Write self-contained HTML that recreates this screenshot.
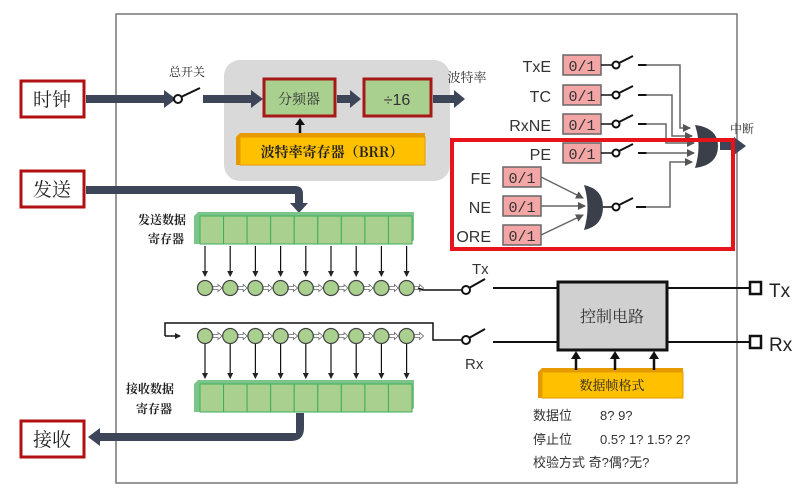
<!DOCTYPE html>
<html><head><meta charset="utf-8"><style>
html,body{margin:0;padding:0;background:#fff}
svg{display:block}
text{font-family:"Liberation Sans","Noto Sans CJK SC",sans-serif}
.cj{font-family:"Noto Serif CJK SC","Noto Sans CJK SC",serif}
text.mono{font-family:"Liberation Mono",monospace}
</style></head><body>
<svg id="s" width="807" height="501" viewBox="0 0 807 501" xmlns="http://www.w3.org/2000/svg">
<defs>
<marker id="ah" markerWidth="6" markerHeight="6" refX="5" refY="3" orient="auto" markerUnits="userSpaceOnUse"><path d="M0,0 L6,3 L0,6z" fill="#222"/></marker>
<marker id="ag" markerWidth="8" markerHeight="8" refX="7" refY="4" orient="auto" markerUnits="userSpaceOnUse"><path d="M0,0 L8,4 L0,8z" fill="#555"/></marker>
</defs>
<rect x="116" y="14" width="621" height="469" fill="#fff" stroke="#777" stroke-width="1.5"/>
<g fill="#fff" stroke="#b01010" stroke-width="3">
<rect x="21" y="81" width="63" height="36"/><rect x="21" y="171" width="63" height="36"/><rect x="21" y="421" width="63" height="36"/>
</g>
<g font-size="19" text-anchor="middle" fill="#222" class="cj">
<text x="52" y="106" class="cj">时钟</text><text x="52" y="196" class="cj">发送</text><text x="52" y="446" class="cj">接收</text>
</g>
<rect x="224" y="60" width="226" height="121" rx="16" fill="#d9d9d9"/>
<g fill="#3d4659">
<rect x="86" y="95" width="80" height="8"/><path d="M164,90 L176,99 L164,108z"/>
<rect x="203" y="95" width="50" height="8"/><path d="M251,90 L263,99 L251,108z"/>
<rect x="337" y="95" width="14" height="8"/><path d="M350,90 L361,99 L350,108z"/>
<rect x="433" y="95" width="22" height="8"/><path d="M454,90 L465,99 L454,108z"/>
<path d="M86,186 H295 Q303,186 303,194 V203 h5 l-9,10 l-9,-10 h5 V194 H86z"/>
<path d="M304,413 V428 Q304,441 291,441 H100 v5 l-12,-9 l12,-9 v5 H296 V413z"/>
</g>
<circle cx="178" cy="99" r="4" fill="#fff" stroke="#111" stroke-width="2"/>
<line x1="181" y1="97" x2="200" y2="88" stroke="#111" stroke-width="2"/>
<text x="187" y="76" font-size="12" text-anchor="middle" class="cj" fill="#222">总开关</text>
<g stroke="#a81818" stroke-width="3" fill="#a9d08e">
<rect x="264" y="79" width="71" height="37"/><rect x="364" y="79" width="67" height="37"/></g>
<text x="299" y="104" font-size="14" text-anchor="middle" fill="#333" class="cj">分频器</text>
<text x="397" y="105" font-size="16" text-anchor="middle" fill="#333">÷16</text>
<text x="467" y="82" font-size="13" text-anchor="middle" fill="#333" class="cj">波特率</text>
<path d="M300,133 V124" stroke="#111" stroke-width="2.5"/><path d="M295,125 L300,118 L305,125z" fill="#111"/>
<path d="M236,137 L240,133 H425 V161 L421,165 H236z" fill="#e59a00"/>
<rect x="240" y="137" width="185" height="28" fill="#ffc000" stroke="#e59a00"/>
<text x="332" y="157" font-size="14" font-weight="bold" text-anchor="middle" fill="#222" class="cj">波特率寄存器（BRR）</text>
<g id="regs"></g>
<text x="162" y="224" font-size="12" font-weight="bold" text-anchor="middle" class="cj" fill="#222">发送数据</text>
<text x="166" y="243" font-size="12" font-weight="bold" text-anchor="middle" class="cj" fill="#222">寄存器</text>
<text x="150" y="393" font-size="12" font-weight="bold" text-anchor="middle" class="cj" fill="#222">接收数据</text>
<text x="154" y="413" font-size="12" font-weight="bold" text-anchor="middle" class="cj" fill="#222">寄存器</text>
<path d="M418,288 L423,290 H462" stroke="#111" stroke-width="1.5" fill="none"/>
<circle cx="466" cy="290" r="4" fill="#fff" stroke="#111" stroke-width="2"/>
<line x1="469" y1="288" x2="485" y2="279" stroke="#111" stroke-width="2"/>
<text x="472" y="274" font-size="15" fill="#333">Tx</text>
<path d="M165,336 V323 H433 V340 H462" stroke="#111" stroke-width="1.5" fill="none"/>
<path d="M165,336 H180" stroke="#111" stroke-width="1.5" marker-end="url(#ah)"/>
<circle cx="466" cy="340" r="4" fill="#fff" stroke="#111" stroke-width="2"/>
<line x1="469" y1="338" x2="485" y2="329" stroke="#111" stroke-width="2"/>
<text x="465" y="369" font-size="15" fill="#333">Rx</text>
<g stroke="#111" stroke-width="2">
<line x1="493" y1="288" x2="558" y2="288"/><line x1="493" y1="342" x2="558" y2="342"/>
<line x1="667" y1="288" x2="750" y2="288"/><line x1="667" y1="342" x2="750" y2="342"/></g>
<rect x="558" y="282" width="109" height="68" fill="#d0d0d0" stroke="#111" stroke-width="3"/>
<text x="612" y="322" font-size="16" text-anchor="middle" class="cj" fill="#333">控制电路</text>
<rect x="750" y="282" width="11" height="12" fill="#fff" stroke="#111" stroke-width="2.5"/>
<rect x="750" y="336" width="11" height="12" fill="#fff" stroke="#111" stroke-width="2.5"/>
<text x="769" y="297" font-size="19" fill="#222">Tx</text><text x="769" y="351" font-size="19" fill="#222">Rx</text>
<path d="M538,372 L542,368 H683 V394 L679,398 H538z" fill="#e59a00"/>
<rect x="542" y="372" width="141" height="26" fill="#ffc000" stroke="#e59a00"/>
<text x="612" y="390" font-size="13" text-anchor="middle" class="cj" fill="#222">数据帧格式</text>
<g stroke="#111" stroke-width="2.5"><line x1="576" y1="370" x2="576" y2="358"/><line x1="615" y1="370" x2="615" y2="358"/><line x1="654" y1="370" x2="654" y2="358"/></g>
<g fill="#111"><path d="M571,359 L576,351 L581,359z"/><path d="M610,359 L615,351 L620,359z"/><path d="M649,359 L654,351 L659,359z"/></g>
<g font-size="13" fill="#333" class="cj">
<text x="533" y="420">数据位</text><text x="600" y="420">8? 9?</text>
<text x="533" y="444">停止位</text><text x="600" y="444">0.5? 1? 1.5? 2?</text>
<text x="533" y="467">校验方式 奇?偶?无?</text></g>
<g id="flags"></g>
<g stroke="#666" stroke-width="1.5" fill="none">
<path d="M646,65 H680 V128 H690" marker-end="url(#ag)"/>
<path d="M646,95 H672 V136 H692" marker-end="url(#ag)"/>
<path d="M646,124 H666 V143 H694" marker-end="url(#ag)"/>
<path d="M646,153 H694" marker-end="url(#ag)"/>
<path d="M646,207 H670 V162 H692" marker-end="url(#ag)"/>
<path d="M541,177 L583,198" marker-end="url(#ag)"/>
<path d="M541,206 H585" marker-end="url(#ag)"/>
<path d="M541,235 L583,215" marker-end="url(#ag)"/>
</g>
<path d="M695,125 Q718,128 718,146 Q718,165 695,168 Q702,146 695,125z" fill="#3a3f4a"/>
<path d="M584,185 Q603,189 603,207 Q603,226 584,230 Q591,207 584,185z" fill="#3a3f4a"/>
<rect x="720" y="142" width="15" height="8" fill="#3d4659"/><path d="M734,137 L746,146 L734,155z" fill="#3d4659"/>
<text x="730" y="133" font-size="12" class="cj" fill="#333">中断</text>
<rect x="452" y="140" width="281" height="109" fill="none" stroke="#e8141c" stroke-width="4"/>
</svg>
<script>
const NS="http://www.w3.org/2000/svg";
function el(p,t,a,txt){const e=document.createElementNS(NS,t);for(const k in a)e.setAttribute(k,a[k]);if(txt)e.textContent=txt;p.appendChild(e);return e;}
const R=document.getElementById('regs');
function reg(x,y,w,h){el(R,'path',{d:`M${x},${y+4} L${x+4},${y} H${x+w} V${y+h-4} L${x+w-4},${y+h} H${x}z`,fill:'#7cc58a'});
const cw=(w-8)/9;for(let i=0;i<9;i++)el(R,'rect',{x:x+6+i*cw,y:y+4,width:cw,height:h-4,fill:'#a9d08e',stroke:'#3cae5c','stroke-width':1});}
reg(194,212,220,32);reg(194,380,220,32);
for(let i=0;i<9;i++){const cx=205+i*25.2;
el(R,'line',{x1:cx,y1:246,x2:cx,y2:276,stroke:'#111','stroke-width':1.2,'marker-end':'url(#ah)'});
el(R,'line',{x1:cx,y1:344,x2:cx,y2:378,stroke:'#111','stroke-width':1.2,'marker-end':'url(#ah)'});
for(const cy of [288,336]){el(R,'circle',{cx:cx,cy:cy,r:7.5,fill:'#a9d08e',stroke:'#444','stroke-width':1.2});
el(R,'path',{d:`M${cx+8},${cy-1.5} h5 v-2 l4,3.5 l-4,3.5 v-2 h-5z`,fill:'#fff',stroke:'#666','stroke-width':0.8});}}
const F=document.getElementById('flags');
function flag(lbl,lx,bx,y,sw){el(F,'text',{x:lx,y:y+7,'font-size':16,'text-anchor':'end',fill:'#333'},lbl);
el(F,'rect',{x:bx,y:y-10,width:38,height:20,fill:'#f4a6a6',stroke:'#666','stroke-width':1.5});
el(F,'text',{x:bx+19,y:y+6,'font-size':15,'text-anchor':'middle',fill:'#333','class':'mono'},'0/1');
if(sw){el(F,'line',{x1:bx+38,y1:y,x2:bx+49,y2:y,stroke:'#111','stroke-width':1.5});
el(F,'circle',{cx:bx+53,cy:y,r:3.5,fill:'#fff',stroke:'#111','stroke-width':2});
el(F,'line',{x1:bx+56,y1:y-2,x2:bx+70,y2:y-9,stroke:'#111','stroke-width':2});
el(F,'line',{x1:bx+75,y1:y,x2:bx+84,y2:y,stroke:'#111','stroke-width':2});}}
flag('TxE',551,563,65,1);flag('TC',551,563,95,1);flag('RxNE',551,563,124,1);flag('PE',551,563,153,1);
flag('FE',491,503,177,0);flag('NE',491,503,206,0);flag('ORE',491,503,235,0);
el(F,'circle',{cx:616,cy:207,r:3.5,fill:'#fff',stroke:'#111','stroke-width':2});
el(F,'line',{x1:603,y1:207,x2:612,y2:207,stroke:'#111','stroke-width':1.5});
el(F,'line',{x1:619,y1:205,x2:633,y2:198,stroke:'#111','stroke-width':2});
el(F,'line',{x1:636,y1:207,x2:646,y2:207,stroke:'#111','stroke-width':2});
</script>
</body></html>
